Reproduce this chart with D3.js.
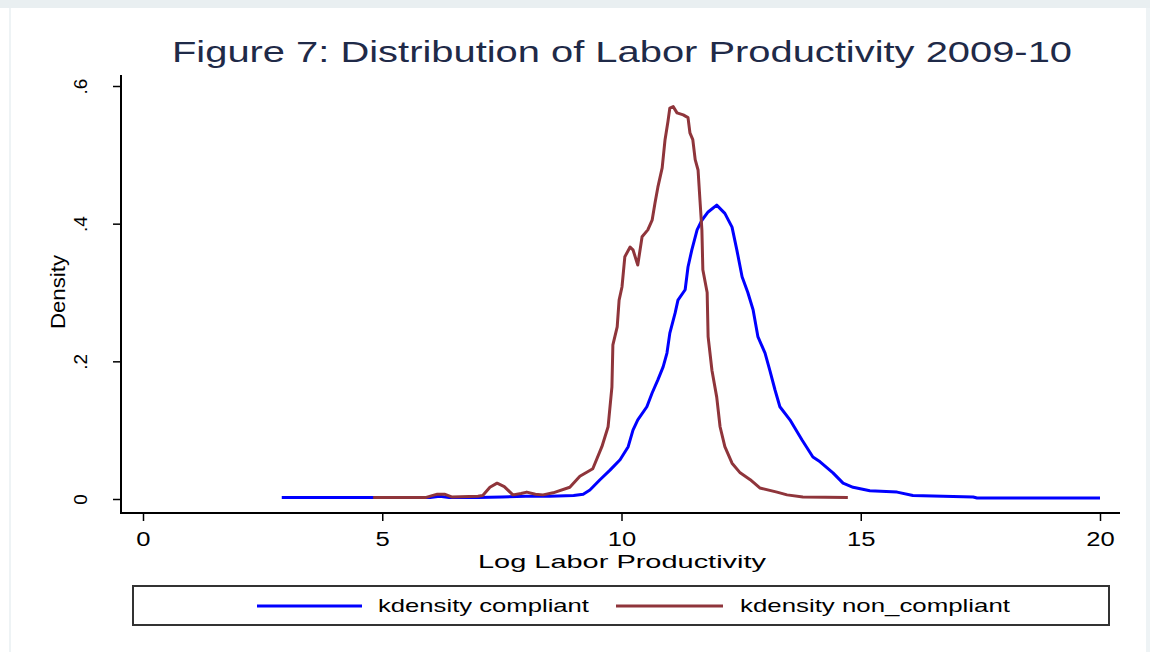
<!DOCTYPE html>
<html>
<head>
<meta charset="utf-8">
<script src="https://cdn.jsdelivr.net/npm/d3@7"></script>
<style>
  html, body { margin: 0; padding: 0; background: #ffffff; }
  svg { display: block; font-family: "Liberation Sans", Arial, sans-serif; }
</style>
</head>
<body>
<svg id="chart" width="1150" height="652"></svg>
<script>
// ---------- data ----------
const chartTitle = "Figure 7: Distribution of Labor Productivity 2009-10";
const xAxisTitle = "Log Labor Productivity";
const yAxisTitle = "Density";
const xTicks = [0, 5, 10, 15, 20];
const yTicks = [0, 0.2, 0.4, 0.6];
const yTickLabels = ["0", ".2", ".4", ".6"];
const seriesNames = ["kdensity compliant", "kdensity non_compliant"];
const seriesColors = ["#0000ff", "#8f353b"];

const compliantX = [2.9, 4, 5, 6, 6.2, 6.4, 6.6, 7.0, 7.5, 8, 8.5, 9.0, 9.2, 9.34, 9.55, 9.76, 9.97, 10.14, 10.24, 10.34, 10.53, 10.64, 10.76, 10.87, 10.95, 11.01, 11.12, 11.18, 11.33, 11.39, 11.47, 11.58, 11.68, 11.81, 11.99, 12.16, 12.31, 12.41, 12.52, 12.64, 12.75, 12.85, 13.0, 13.10, 13.21, 13.31, 13.52, 13.77, 14.0, 14.15, 14.42, 14.63, 14.84, 15.19, 15.76, 16.09, 17.35, 17.43, 20.0];
const compliantY = [0.002, 0.002, 0.002, 0.002, 0.004, 0.002, 0.002, 0.002, 0.003, 0.004, 0.004, 0.005, 0.007, 0.013, 0.028, 0.042, 0.057, 0.076, 0.10, 0.115, 0.134, 0.154, 0.173, 0.192, 0.212, 0.241, 0.27, 0.289, 0.304, 0.337, 0.362, 0.391, 0.405, 0.417, 0.427, 0.415, 0.395, 0.362, 0.323, 0.30, 0.275, 0.236, 0.212, 0.187, 0.158, 0.134, 0.115, 0.086, 0.061, 0.054, 0.038, 0.023, 0.017, 0.012, 0.010, 0.005, 0.003, 0.0015, 0.0015];

const nonCompliantX = [4.81, 5.9, 6.15, 6.3, 6.45, 7.0, 7.1, 7.25, 7.4, 7.55, 7.73, 7.9, 8.02, 8.2, 8.36, 8.57, 8.92, 9.13, 9.40, 9.59, 9.72, 9.80, 9.82, 9.91, 9.95, 10.01, 10.07, 10.18, 10.24, 10.34, 10.43, 10.55, 10.64, 10.70, 10.76, 10.85, 10.91, 10.97, 11.01, 11.08, 11.16, 11.29, 11.39, 11.43, 11.49, 11.54, 11.60, 11.64, 11.68, 11.70, 11.79, 11.81, 11.89, 11.99, 12.06, 12.16, 12.31, 12.48, 12.69, 12.89, 13.25, 13.46, 13.79, 14.73];
const nonCompliantY = [0.002, 0.002, 0.007, 0.007, 0.003, 0.004, 0.005, 0.017, 0.023, 0.018, 0.006, 0.008, 0.010, 0.007, 0.006, 0.009, 0.017, 0.033, 0.044, 0.076, 0.105, 0.163, 0.224, 0.25, 0.289, 0.308, 0.352, 0.366, 0.362, 0.34, 0.381, 0.391, 0.405, 0.43, 0.453, 0.481, 0.522, 0.548, 0.568, 0.57, 0.561, 0.558, 0.554, 0.532, 0.522, 0.493, 0.478, 0.434, 0.391, 0.333, 0.30, 0.236, 0.187, 0.148, 0.105, 0.076, 0.052, 0.038, 0.028, 0.016, 0.010, 0.006, 0.003, 0.002];

// ---------- layout ----------
const svg = d3.select("#chart");
const W = 1150, H = 652;

// outer frame
svg.append("rect").attr("x", 0).attr("y", 0).attr("width", W).attr("height", H).attr("fill", "#ffffff");
svg.append("rect").attr("x", 0).attr("y", 0).attr("width", W).attr("height", 8).attr("fill", "#e9eff1");
svg.append("rect").attr("x", 9).attr("y", 8).attr("width", 2).attr("height", H - 8).attr("fill", "#eef3f5");
svg.append("rect").attr("x", 1146).attr("y", 8).attr("width", 4).attr("height", H - 8).attr("fill", "#eef3f5");

const x = d3.scaleLinear().domain([0, 20]).range([143, 1100]);
const y = d3.scaleLinear().domain([0, 0.6]).range([499, 86]);

const axisX = 121, axisY = 513;

// axis lines
svg.append("line").attr("x1", axisX).attr("x2", axisX).attr("y1", 75).attr("y2", axisY + 1)
  .attr("stroke", "#000").attr("stroke-width", 2);
svg.append("line").attr("x1", axisX - 1).attr("x2", 1120).attr("y1", axisY).attr("y2", axisY)
  .attr("stroke", "#000").attr("stroke-width", 2);

// y axis ticks
const gy = svg.append("g").attr("transform", `translate(${axisX},0)`)
  .call(d3.axisLeft(y).tickValues(yTicks).tickSize(8).tickSizeOuter(0)
    .tickFormat((d, i) => yTickLabels[i]));
gy.select(".domain").remove();
gy.selectAll(".tick line").attr("stroke", "#000").attr("stroke-width", 1.5);
gy.selectAll(".tick text")
  .attr("x", null).attr("dy", null)
  .attr("text-anchor", "middle")
  .attr("font-size", 19)
  .attr("fill", "#000")
  .attr("transform", "translate(-34,0) rotate(-90)");

// x axis ticks
const gx = svg.append("g").attr("transform", `translate(0,${axisY})`)
  .call(d3.axisBottom(x).tickValues(xTicks).tickSize(8).tickSizeOuter(0).tickFormat(d3.format("d")));
gx.select(".domain").remove();
gx.selectAll(".tick line").attr("stroke", "#000").attr("stroke-width", 1.5);
gx.selectAll(".tick text")
  .attr("y", null).attr("dy", null)
  .attr("font-size", 21)
  .attr("fill", "#000")
  .attr("transform", "translate(0,33) scale(1.22,1)");

// titles
svg.append("text").attr("x", 622).attr("y", 62).attr("text-anchor", "middle")
  .attr("font-size", 30).attr("fill", "#1f2a48")
  .attr("textLength", 900).attr("lengthAdjust", "spacingAndGlyphs")
  .text(chartTitle);

svg.append("text").attr("x", 622).attr("y", 568).attr("text-anchor", "middle")
  .attr("font-size", 19).attr("fill", "#000")
  .attr("textLength", 288).attr("lengthAdjust", "spacingAndGlyphs")
  .text(xAxisTitle);

svg.append("text").attr("transform", "translate(65,292) rotate(-90)").attr("text-anchor", "middle")
  .attr("font-size", 21).attr("fill", "#000")
  .attr("textLength", 74).attr("lengthAdjust", "spacingAndGlyphs")
  .text(yAxisTitle);

// lines
const line = d3.line().x(d => x(d[0])).y(d => y(d[1]));
const compliant = compliantX.map((v, i) => [v, compliantY[i]]);
const nonCompliant = nonCompliantX.map((v, i) => [v, nonCompliantY[i]]);

svg.append("path").datum(compliant).attr("d", line)
  .attr("fill", "none").attr("stroke", seriesColors[0]).attr("stroke-width", 3).attr("stroke-linejoin", "round");
svg.append("path").datum(nonCompliant).attr("d", line)
  .attr("fill", "none").attr("stroke", seriesColors[1]).attr("stroke-width", 3).attr("stroke-linejoin", "round");

// legend
svg.append("rect").attr("x", 133).attr("y", 586).attr("width", 976).attr("height", 39)
  .attr("fill", "#fff").attr("stroke", "#333").attr("stroke-width", 2);
const legendItems = [
  {x1: 257, x2: 362, tx: 378, tw: 211},
  {x1: 616, x2: 723, tx: 740, tw: 270}
];
legendItems.forEach((it, i) => {
  svg.append("line").attr("x1", it.x1).attr("x2", it.x2).attr("y1", 606).attr("y2", 606)
    .attr("stroke", seriesColors[i]).attr("stroke-width", 3);
  svg.append("text").attr("x", it.tx).attr("y", 612).attr("font-size", 19).attr("fill", "#000")
    .attr("textLength", it.tw).attr("lengthAdjust", "spacingAndGlyphs")
    .text(seriesNames[i]);
});
</script>
</body>
</html>
